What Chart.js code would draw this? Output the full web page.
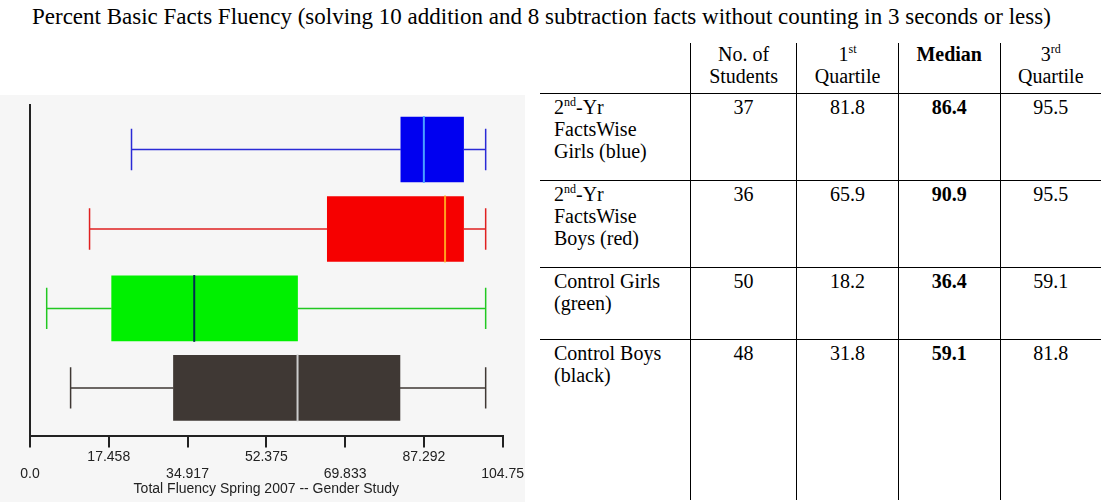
<!DOCTYPE html>
<html>
<head>
<meta charset="utf-8">
<script src="https://cdn.jsdelivr.net/npm/chart.js@4/dist/chart.umd.min.js"></script>
<style>
  body { margin: 0; background: #fff; width: 1101px; height: 502px; overflow: hidden; position: relative; }
  #title { position: absolute; left: 32px; top: 4px; font: 23px "Liberation Serif", serif; color: #000; white-space: nowrap; }
  #wrap { position: absolute; left: 0; top: 95px; width: 525px; height: 407px; background: #f6f6f6; }
  table { position: absolute; left: 540px; top: 43px; width: 561px; border-collapse: collapse; font: 20px "Liberation Serif", serif; color: #000; }
  td, th { vertical-align: top; padding: 0 4px; font-weight: normal; line-height: 22px; }
  th { text-align: center; height: 50px; border-left: 1px solid #000; border-bottom: 1px solid #000; }
  th:first-child { border-left: none; width: 142px; }
  td { text-align: center; border-left: 1px solid #000; border-bottom: 1px solid #000; padding-top: 2px; }
  td:first-child { text-align: left; border-left: none; padding-left: 14px; }
  .b { font-weight: bold; }
  sup { font-size: 12px; line-height: 0; }
</style>
</head>
<body>
<div id="title">Percent Basic Facts Fluency (solving 10 addition and 8 subtraction facts without counting in 3 seconds or less)</div>
<div id="wrap"><canvas id="c"></canvas></div>
<table id="t"></table>
<script>
const groups = ['2nd-Yr FactsWise Girls (blue)', '2nd-Yr FactsWise Boys (red)', 'Control Girls (green)', 'Control Boys (black)'];
const groupHtml = ['2<sup>nd</sup>-Yr<br>FactsWise<br>Girls (blue)', '2<sup>nd</sup>-Yr<br>FactsWise<br>Boys (red)', 'Control Girls<br>(green)', 'Control Boys<br>(black)'];
const students = [37, 36, 50, 48];
const q1 = [81.8, 65.9, 18.2, 31.8];
const median = [86.4, 90.9, 36.4, 59.1];
const q3 = [95.5, 95.5, 59.1, 81.8];
const boxLow = [82.2, 65.9, 18.1, 31.8];
const boxMed = [87.3, 92.0, 36.4, 59.3];
const boxHigh = [96.1, 96.1, 59.3, 82.0];
const whiskerLow = [22.5, 13.2, 3.7, 9.0];
const whiskerHigh = [101.0, 101.0, 101.0, 101.0];
const boxColors = ['#0000f0', '#f60000', '#00f000', '#3f3834'];
const whiskerColors = ['#2a2ad6', '#e02020', '#22c822', '#3f3834'];
const medianColors = ['#4aa0ff', '#ffa020', '#003050', '#cccccc'];
const tickValues = [0, 17.458, 34.917, 52.375, 69.833, 87.292, 104.75];
const tickLabels = ['0.0', '17.458', '34.917', '52.375', '69.833', '87.292', '104.75'];

// table
const t = document.getElementById('t');
let html = '<tr><th></th><th>No. of<br>Students</th><th>1<sup>st</sup><br>Quartile</th><th class="b">Median</th><th>3<sup>rd</sup><br>Quartile</th></tr>';
const heights = [87, 87, 72, 160];
groups.forEach((g, i) => {
  html += '<tr style="height:' + heights[i] + 'px"><td>' + groupHtml[i] + '</td><td>' + students[i] + '</td><td>' + q1[i].toFixed(1) +
    '</td><td class="b">' + median[i].toFixed(1) + '</td><td>' + q3[i].toFixed(1) + '</td></tr>';
});
t.innerHTML = html;
t.querySelectorAll('tr:last-child td').forEach(td => td.style.borderBottom = 'none');

const whiskers = {
  id: 'whiskers',
  afterDatasetsDraw(chart) {
    const { ctx, scales: { x, y } } = chart;
    const cap = 0.26, half = 0.42;
    ctx.save();
    groups.forEach((g, i) => {
      const yc = y.getPixelForValue(i);
      const yt = y.getPixelForValue(i - cap), yb = y.getPixelForValue(i + cap);
      ctx.strokeStyle = whiskerColors[i];
      ctx.lineWidth = 1.5;
      ctx.beginPath();
      ctx.moveTo(x.getPixelForValue(whiskerLow[i]), yc); ctx.lineTo(x.getPixelForValue(boxLow[i]), yc);
      ctx.moveTo(x.getPixelForValue(boxHigh[i]), yc); ctx.lineTo(x.getPixelForValue(whiskerHigh[i]), yc);
      ctx.moveTo(x.getPixelForValue(whiskerLow[i]), yt); ctx.lineTo(x.getPixelForValue(whiskerLow[i]), yb);
      ctx.moveTo(x.getPixelForValue(whiskerHigh[i]), yt); ctx.lineTo(x.getPixelForValue(whiskerHigh[i]), yb);
      ctx.stroke();
      ctx.strokeStyle = medianColors[i];
      ctx.lineWidth = 2;
      ctx.beginPath();
      ctx.moveTo(x.getPixelForValue(boxMed[i]), y.getPixelForValue(i - half));
      ctx.lineTo(x.getPixelForValue(boxMed[i]), y.getPixelForValue(i + half));
      ctx.stroke();
    });
    ctx.restore();
  }
};

new Chart(document.getElementById('c'), {
  type: 'bar',
  data: {
    datasets: [{
      data: groups.map((g, i) => ({ x: [boxLow[i], boxHigh[i]], y: i })),
      backgroundColor: boxColors,
      barThickness: 65,
      borderWidth: 0
    }]
  },
  plugins: [whiskers],
  options: {
    indexAxis: 'y',
    animation: false,
    responsive: true,
    maintainAspectRatio: false,
    layout: { padding: { left: 22, right: 12, top: 10, bottom: 0 } },
    plugins: { legend: { display: false }, tooltip: { enabled: false } },
    scales: {
      x: {
        type: 'linear', min: 0, max: 104.75,
        afterBuildTicks: s => { s.ticks = tickValues.map(v => ({ value: v })); },
        border: { color: '#222', width: 2 },
        grid: { drawOnChartArea: false, color: '#222', lineWidth: 2, tickLength: 12 },
        ticks: {
          autoSkip: false, maxRotation: 0, color: '#222', padding: 1,
          font: { family: 'Liberation Sans', size: 14 },
          callback: (v, i) => i % 2 ? [tickLabels[i], ''] : ['', tickLabels[i]]
        },
        title: { display: true, text: 'Total Fluency Spring 2007 -- Gender Study', color: '#222', padding: { top: -2, bottom: 4 },
          font: { family: 'Liberation Sans', size: 14 } }
      },
      y: {
        type: 'linear', min: -0.56, max: 3.6, reverse: true, offset: false,
        border: { color: '#222', width: 2 },
        grid: { display: false },
        ticks: { display: false }
      }
    }
  }
});
</script>
</body>
</html>
